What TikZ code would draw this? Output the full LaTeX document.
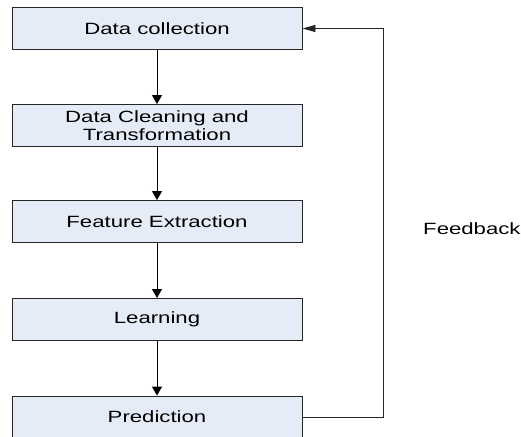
\documentclass[tikz,border=0pt]{standalone}
\usepackage{fontspec}
\setmainfont[FakeStretch=1.36]{Liberation Sans}
\usetikzlibrary{arrows.meta}
\definecolor{boxfill}{RGB}{229,236,247}
\tikzset{
  stagebox/.style={draw=black!85, fill=boxfill, line width=0.9pt, minimum width=290pt, minimum height=42pt, inner sep=0pt, align=center, font=\fontsize{16.3}{18}\selectfont},
  flow/.style={draw=black, line width=0.9pt, -{Triangle[width=10pt,length=9pt]}},
  backflow/.style={draw=black!85, line width=0.9pt, -{Triangle[width=7pt,length=13pt]}},
  lbl/.style={font=\fontsize{16.3}{18}\selectfont, inner sep=0pt}
}
\begin{document}
\begin{tikzpicture}[x=1pt,y=-1pt]
\useasboundingbox (0,0) rectangle (521,436);
\clip (0,0) rectangle (521,436);
\node[stagebox] (dc) at (157,28.5) {Data collection};
\node[stagebox] (cl) at (157,125.5) {Data Cleaning and\\Transformation};
\node[stagebox] (fe) at (157,221.5) {Feature Extraction};
\node[stagebox] (le) at (157,319.5) {Learning};
\node[stagebox] (pr) at (157,417) {Prediction};
\draw[flow] (dc) -- (cl);
\draw[flow] (cl) -- (fe);
\draw[flow] (fe) -- (le);
\draw[flow] (le) -- (pr);
\coordinate (c1) at (383,417);
\coordinate (c2) at (383,28.5);
\draw[backflow] (pr.east) -- (c1) -- (c2) -- (dc.east);
\node[lbl, anchor=west] (fb) at (423,229) {Feedback};
\end{tikzpicture}
\end{document}
